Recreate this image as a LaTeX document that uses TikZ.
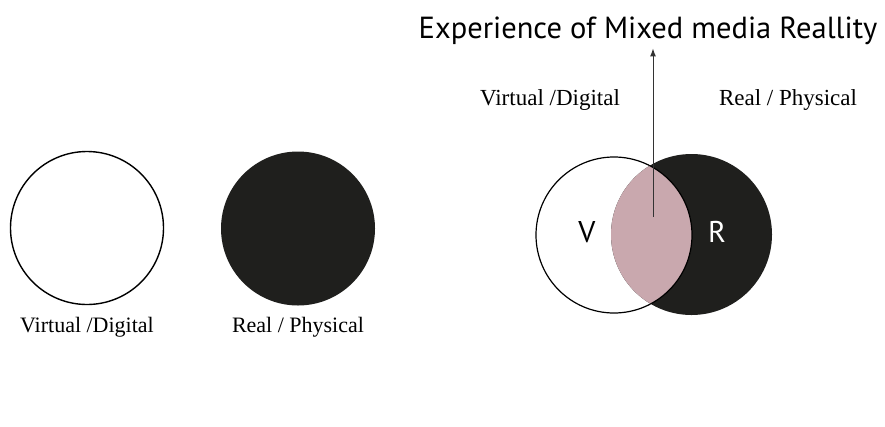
\documentclass[tikz,border=0pt]{standalone}
\usepackage{fontspec}
\setmainfont{Liberation Serif}
\newfontfamily\headfont{PT Sans}
\usetikzlibrary{positioning, arrows.meta}
\definecolor{darkfill}{HTML}{1F1F1D}
\definecolor{mixpink}{HTML}{C9A8AE}

\tikzset{
  world/.style={circle, inner sep=0pt, minimum size=#1},
  caption/.style={font=\fontsize{22}{24}\selectfont},
}

\begin{document}
\begin{tikzpicture}[x=1pt, y=-1pt]
  \useasboundingbox (0,0) rectangle (885,426);

  % separate worlds
  \node[world=153pt, draw=black, line width=1.4pt] (virt) at (87,228) {};
  \node[world=154pt, fill=darkfill] (real) at (298,228.5) {};
  \node[caption, below=8pt of virt] (virtlbl) {Virtual /Digital};
  \node[caption, below=8pt of real] (reallbl) {Real / Physical};

  % overlapping worlds
  \node[world=161pt, fill=darkfill] (realmix) at (691.5,234.5) {};
  \begin{scope}
    \clip (614,235) circle (78pt);
    \fill[mixpink] (realmix.center) circle (80.5pt);
  \end{scope}
  \node[world=156pt, draw=black, line width=1.2pt] (virtmix) at (614,235) {};
  \node[font=\headfont\fontsize{30}{32}\selectfont] (vlbl) at (587,232) {V};
  \node[font=\headfont\fontsize{30}{32}\selectfont, text=white] (rlbl) at (717,232) {R};

  \node[caption, font=\fontsize{23}{25}\selectfont] (virtcap) at (550,100) {Virtual /Digital};
  \node[caption, font=\fontsize{23}{25}\selectfont] (realcap) at (788,100) {Real / Physical};

  \node[font=\headfont\fontsize{30.5}{33}\selectfont] (title) at (648,31) {Experience of Mixed media Reallity};
  \coordinate (mix) at (653,217);
  \draw[-{Latex[length=8pt, width=6pt]}, line width=1pt, black!80] (mix) -- (mix |- title.south);
\end{tikzpicture}
\end{document}
